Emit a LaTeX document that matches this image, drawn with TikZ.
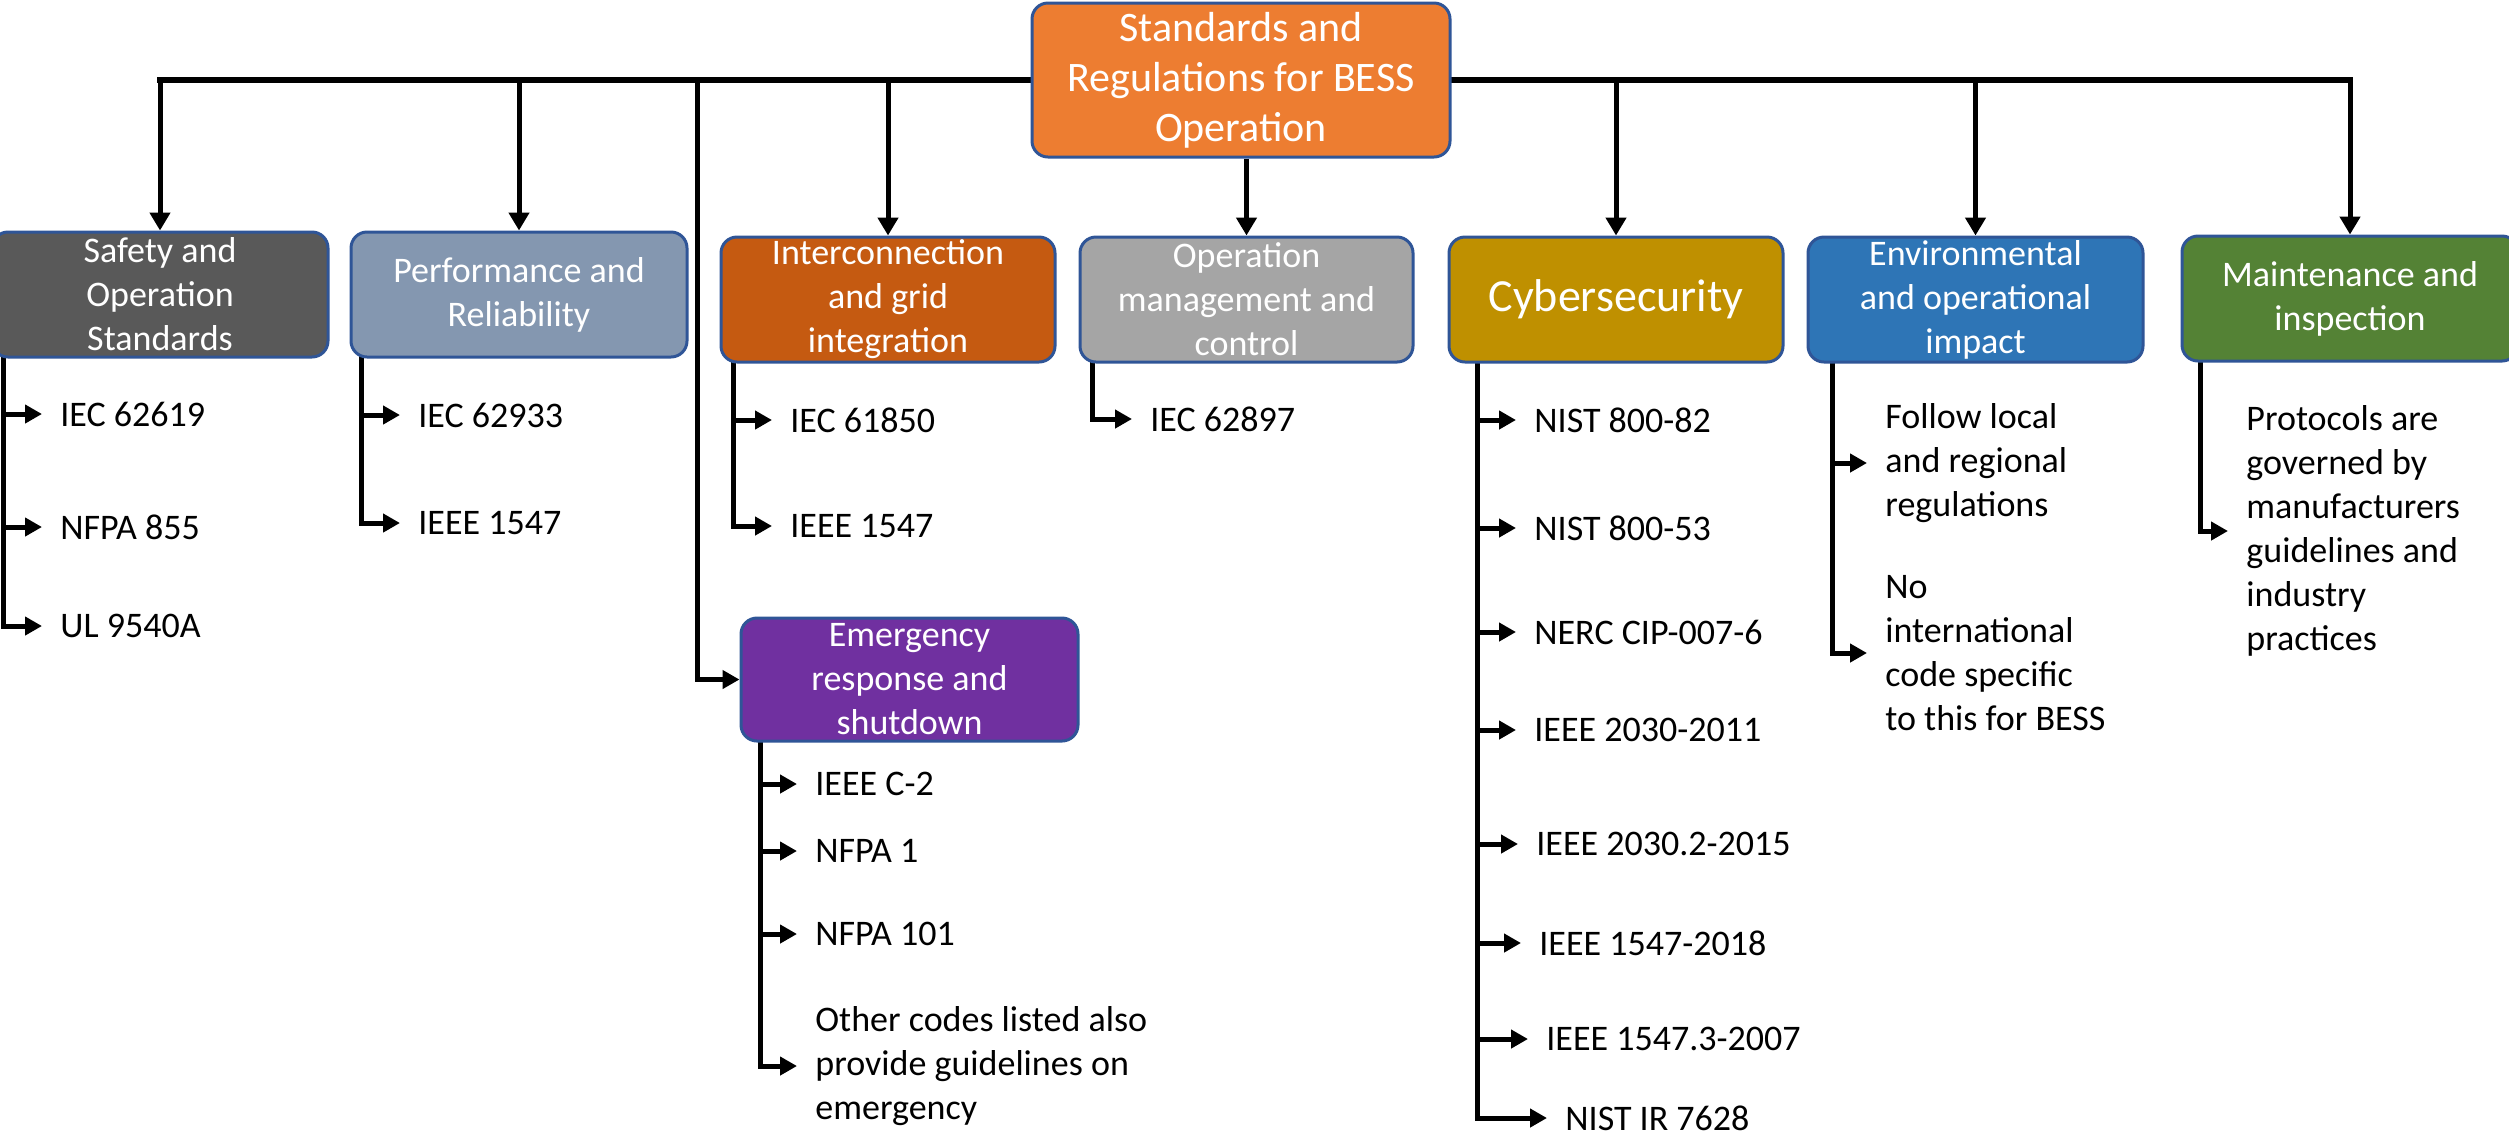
\documentclass[tikz,border=0pt]{standalone}
\usepackage{fontspec}
\setmainfont{Carlito}
\usetikzlibrary{arrows.meta,calc}

\definecolor{outl}{HTML}{2F5597}
\definecolor{cTop}{HTML}{ED7D31}
\definecolor{cSafe}{HTML}{595959}
\definecolor{cPerf}{HTML}{8497B0}
\definecolor{cInter}{HTML}{C55A11}
\definecolor{cOpm}{HTML}{A5A5A5}
\definecolor{cCyber}{HTML}{BF9000}
\definecolor{cEnv}{HTML}{2E75B6}
\definecolor{cMaint}{HTML}{548235}
\definecolor{cEmerg}{HTML}{7030A0}

\pgfdeclarelayer{bg}
\pgfsetlayers{bg,main}

\tikzset{
  cat/.style={draw=outl, line width=1.5pt, rounded corners=8pt, text=white,
    align=center, inner sep=0pt, font=\fontsize{18}{22}\selectfont,
    minimum height=62.5pt, minimum width=167pt},
  item/.style={anchor=west, inner xsep=9pt, inner ysep=0pt, align=left,
    font=\fontsize{18}{22}\selectfont},
  bus/.style={line width=3pt, line cap=rect},
  drop/.style={line width=2.5pt, -{Triangle[length=9pt,width=10pt]}},
  feed/.style={line width=2.5pt, -{Triangle[length=8.5pt,width=9pt]}}
}

\begin{document}
\begin{tikzpicture}[x=0.5pt,y=-0.5pt]
\useasboundingbox (0,0) rectangle (2509,1132);

% root and category boxes
\node[cat, fill=cTop, minimum width=209pt, minimum height=77pt,
      font=\fontsize{21}{25}\selectfont] (top) at (1241,80)
      {Standards and\\Regulations for BESS\\Operation};
\node[cat, fill=cSafe, minimum width=168pt] (safety) at (160,294.5)
      {Safety and\\Operation\\Standards};
\node[cat, fill=cPerf, minimum width=168pt] (perf) at (519,294.5)
      {Performance and\\Reliability};
\node[cat, fill=cInter] (inter) at (888,299.5)
      {Interconnection\\and grid\\integration};
\node[cat, fill=cOpm, minimum width=166.5pt] (opman) at (1246.5,299.5)
      {Operation\\management and\\control};
\node[cat, fill=cCyber, font=\fontsize{23}{27}\selectfont] (cyber) at (1616,299.5)
      {Cybersecurity};
\node[cat, fill=cEnv, minimum width=167.5pt] (env) at (1975.5,299.5)
      {Environmental\\and operational\\impact};
\node[cat, fill=cMaint, minimum width=168pt] (maint) at (2350,298.5)
      {Maintenance and\\inspection};
\node[cat, fill=cEmerg, minimum width=168.5pt, minimum height=61.5pt] (emerg) at (909.5,679.5)
      {Emergency\\response and\\shutdown};

% listed standards
\node[item] (s1) at (42,414) {IEC 62619};
\node[item] (s2) at (42,527) {NFPA 855};
\node[item] (s3) at (42,626) {UL 9540A};

\node[item] (p1) at (400,415) {IEC 62933};
\node[item] (p2) at (400,523) {IEEE 1547};

\node[item] (i1) at (772,420) {IEC 61850};
\node[item] (i2) at (772,526) {IEEE 1547};

\node[item] (o1) at (1132,419) {IEC 62897};

\node[item] (c1) at (1516,420) {NIST 800-82};
\node[item] (c2) at (1516,528) {NIST 800-53};
\node[item] (c3) at (1516,632) {NERC CIP-007-6};
\node[item] (c4) at (1516,730) {IEEE 2030-2011};
\node[item] (c5) at (1518,844) {IEEE 2030.2-2015};
\node[item] (c6) at (1521,943) {IEEE 1547-2018};
\node[item] (c7) at (1528,1039) {IEEE 1547.3-2007};
\node[item] (c8) at (1547,1118) {NIST IR 7628};

\node[item] (e1) at (1867,463) {Follow local\\and regional\\regulations};
\node[item] (e2) at (1867,653) {No\\international\\code specific\\to this for BESS};

\node[item] (m1) at (2228,531) {Protocols are\\governed by\\manufacturers\\guidelines and\\industry\\practices};

\node[item] (r1) at (797,784) {IEEE C-2};
\node[item] (r2) at (797,851) {NFPA 1};
\node[item] (r3) at (797,934) {NFPA 101};
\node[item] (r4) at (797,1066) {Other codes listed also\\provide guidelines on\\emergency};

% trunk starting points under each box
\coordinate (tS) at ($(safety.south west)+(13,-10)$);
\coordinate (tP) at ($(perf.south west)+(12,-10)$);
\coordinate (tI) at ($(inter.south west)+(14,-10)$);
\coordinate (tO) at ($(opman.south west)+(14,-10)$);
\coordinate (tC) at ($(cyber.south west)+(30,-10)$);
\coordinate (tE) at ($(env.south west)+(26,-10)$);
\coordinate (tM) at ($(maint.south west)+(20,-10)$);
\coordinate (tR) at ($(emerg.south west)+(21,-10)$);
\coordinate (etap) at (697,80);

\begin{pgfonlayer}{bg}
  % main bus from the root box
  \draw[bus] (top.west) -- (safety.north |- top.west);
  \draw[bus] (top.east) -- (maint.north |- top.east);
  \foreach \n in {safety,perf,inter,cyber,env,maint}
    \draw[drop] (\n.north |- top.west) -- (\n.north);
  \draw[drop] (opman.north |- top.south) -- (opman.north);
  \draw[feed] (etap) |- (emerg.west);

  % branches to the listed standards
  \foreach \i in {s1,s2,s3} \draw[feed] (tS) |- (\i.west);
  \foreach \i in {p1,p2} \draw[feed] (tP) |- (\i.west);
  \foreach \i in {i1,i2} \draw[feed] (tI) |- (\i.west);
  \draw[feed] (tO) |- (o1.west);
  \foreach \i in {c1,c2,c3,c4,c5,c6,c7,c8} \draw[feed] (tC) |- (\i.west);
  \foreach \i in {e1,e2} \draw[feed] (tE) |- (\i.west);
  \draw[feed] (tM) |- (m1.west);
  \foreach \i in {r1,r2,r3,r4} \draw[feed] (tR) |- (\i.west);
\end{pgfonlayer}
\end{tikzpicture}
\end{document}
